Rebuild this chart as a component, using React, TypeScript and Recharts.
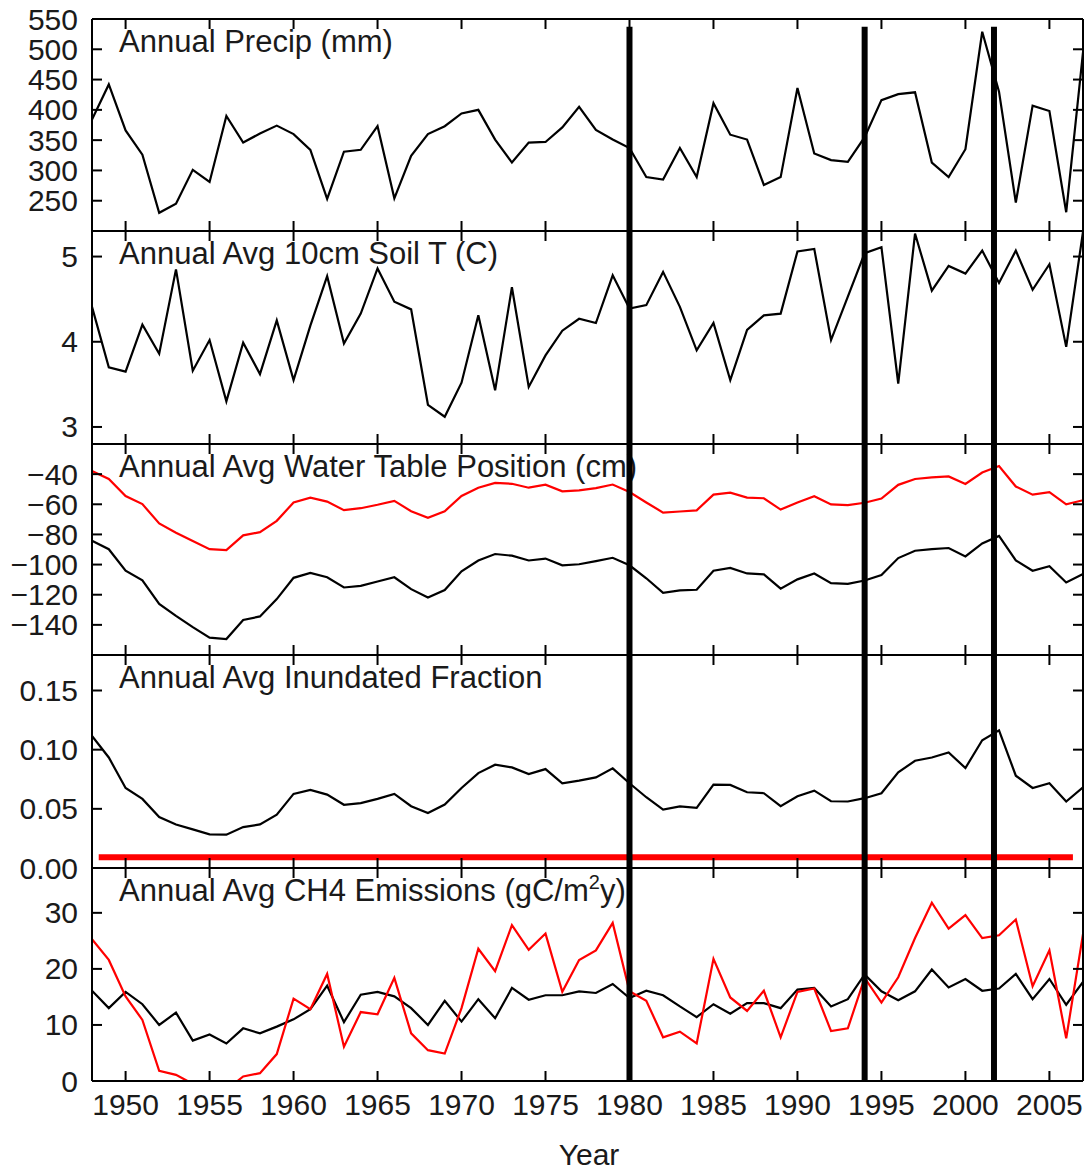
import React from 'react';
import { LineChart, Line, XAxis, YAxis, ReferenceLine } from 'recharts';

// values, one per year 1948..2007
const years = [
  1948, 1949, 1950, 1951, 1952, 1953, 1954, 1955, 1956, 1957,
  1958, 1959, 1960, 1961, 1962, 1963, 1964, 1965, 1966, 1967,
  1968, 1969, 1970, 1971, 1972, 1973, 1974, 1975, 1976, 1977,
  1978, 1979, 1980, 1981, 1982, 1983, 1984, 1985, 1986, 1987,
  1988, 1989, 1990, 1991, 1992, 1993, 1994, 1995, 1996, 1997,
  1998, 1999, 2000, 2001, 2002, 2003, 2004, 2005, 2006, 2007,
];

const precip = [
  384, 442, 366, 326, 230, 245, 301, 281, 390, 346,
  361, 374, 360, 334, 253, 331, 334, 373, 254, 324,
  360, 373, 394, 400, 351, 313, 346, 347, 371, 405,
  367, 351, 337, 289, 285, 337, 289, 411, 359, 351,
  276, 289, 436, 328, 317, 314, 355, 416, 426, 429,
  313, 289, 335, 529, 430, 247, 407, 398, 231, 495,
];

const soilT = [
  4.41, 3.7, 3.65, 4.2, 3.86, 4.85, 3.66, 4.02, 3.3, 3.99,
  3.62, 4.25, 3.55, 4.19, 4.77, 3.98, 4.33, 4.86, 4.47, 4.38,
  3.26, 3.12, 3.52, 4.31, 3.43, 4.64, 3.47, 3.84, 4.13, 4.27,
  4.22, 4.78, 4.39, 4.43, 4.82, 4.41, 3.9, 4.22, 3.55, 4.14,
  4.31, 4.33, 5.06, 5.09, 4.02, 4.53, 5.04, 5.11, 3.51, 5.27,
  4.6, 4.89, 4.8, 5.07, 4.69, 5.07, 4.61, 4.91, 3.94, 5.29,
];

const waterTableRed = [
  -37.9, -43.2, -54.5, -59.9, -72.7, -78.9, -84.4, -89.8, -90.4, -80.6,
  -78.5, -71.0, -58.8, -55.6, -58.2, -63.9, -62.6, -60.3, -57.7, -64.6,
  -69.0, -64.6, -54.5, -49.0, -45.8, -46.4, -49.0, -47.0, -51.4, -50.8,
  -49.3, -46.9, -51.9, -58.8, -65.5, -64.8, -64.0, -53.6, -52.3, -55.6,
  -56.0, -63.5, -58.8, -54.7, -60.1, -60.5, -59.0, -56.2, -47.1, -43.2,
  -42.2, -41.5, -46.5, -38.9, -34.6, -48.2, -53.6, -51.9, -60.0, -57.3,
];

const waterTableBlack = [
  -84.2, -89.8, -104.1, -110.5, -126.1, -134.0, -141.5, -148.5, -149.4, -136.8,
  -134.4, -122.9, -108.8, -105.6, -108.4, -115.2, -114.1, -111.2, -108.4, -116.3,
  -121.8, -116.9, -104.5, -97.3, -93.0, -94.1, -97.3, -96.0, -100.5, -99.8,
  -97.7, -95.5, -100.5, -109.1, -118.8, -117.1, -116.7, -104.1, -102.2, -105.9,
  -106.5, -116.0, -109.8, -105.9, -112.3, -112.8, -110.6, -107.0, -95.7, -90.8,
  -89.7, -89.0, -94.6, -86.0, -81.0, -97.2, -104.1, -101.1, -111.9, -106.3,
];

const inundated = [
  0.1116, 0.0934, 0.0676, 0.0584, 0.043, 0.0368, 0.0326, 0.0284, 0.0282, 0.0346,
  0.0368, 0.045, 0.0626, 0.066, 0.062, 0.0534, 0.0548, 0.0584, 0.0626, 0.0522,
  0.0464, 0.0536, 0.0676, 0.0802, 0.0873, 0.085, 0.0794, 0.0836, 0.0716, 0.0738,
  0.0766, 0.0842, 0.0716, 0.0598, 0.0494, 0.052, 0.0508, 0.0704, 0.0702, 0.064,
  0.0632, 0.0522, 0.0606, 0.0654, 0.0564, 0.0562, 0.059, 0.0632, 0.0808, 0.0906,
  0.0934, 0.0976, 0.0845, 0.108, 0.1164, 0.078, 0.0676, 0.0716, 0.0562, 0.0682,
];

const ch4Black = [
  16.1, 13.0, 15.9, 13.7, 10.0, 12.2, 7.2, 8.3, 6.7, 9.4,
  8.5, 9.7, 11.0, 12.8, 17.0, 10.5, 15.4, 15.9, 15.1, 13.0,
  10.0, 14.3, 10.6, 14.6, 11.2, 16.6, 14.5, 15.3, 15.3, 16.0,
  15.7, 17.3, 14.8, 16.1, 15.3, 13.3, 11.4, 13.7, 12.0, 13.9,
  13.9, 13.0, 16.3, 16.6, 13.3, 14.6, 19.0, 16.0, 14.4, 16.0,
  19.9, 16.7, 18.2, 16.1, 16.5, 19.1, 14.6, 18.2, 13.6, 17.7,
];

const ch4Red = [
  25.3, 21.6, 15.1, 10.9, 1.8, 1.1, -0.5, -1.2, -1.6, 0.8,
  1.4, 4.8, 14.7, 12.8, 19.1, 6.1, 12.3, 11.9, 18.4, 8.5,
  5.5, 4.9, 13.0, 23.6, 19.6, 27.8, 23.4, 26.3, 15.9, 21.6,
  23.3, 28.2, 16.0, 14.3, 7.8, 8.8, 6.7, 21.8, 14.9, 12.5,
  16.1, 7.8, 15.9, 16.5, 8.9, 9.4, 18.4, 14.0, 18.5, 25.5,
  31.8, 27.2, 29.6, 25.5, 26.0, 28.8, 16.9, 23.3, 7.6, 26.2,
];

const xTicks = [1950, 1955, 1960, 1965, 1970, 1975, 1980, 1985, 1990, 1995, 2000, 2005];
const dividerYears = [1980, 1994, 2001.7];
const inundatedRedLevel = 0.009;
const inundatedRedSpan = [1948.4, 2006.4];

const data = years.map((year, i) => ({
  year,
  precip: precip[i],
  soilT: soilT[i],
  waterTableRed: waterTableRed[i],
  waterTableBlack: waterTableBlack[i],
  inundated: inundated[i],
  ch4Black: ch4Black[i],
  ch4Red: ch4Red[i],
}));

const FONT = '"Liberation Sans", Arial, Helvetica, sans-serif';
const TEXT = '#1a1a1a';
const W = 1084;
const PLOT_LEFT = 92;
const PAD = 20;
const axisStyle = { stroke: '#000', strokeWidth: 2 };

const XTick = (props: any) => {
  const { x, y, payload, side, showLabel } = props;
  const d = side === 'top' ? 10 : -10;
  return (
    <g>
      <line x1={x} x2={x} y1={y} y2={y + d} stroke="#000" strokeWidth={2} />
      {showLabel && (
        <text x={x} y={y + 34} textAnchor="middle" fontSize={30} fill={TEXT} fontFamily={FONT}>
          {payload.value}
        </text>
      )}
    </g>
  );
};

const YTick = (props: any) => {
  const { x, y, payload, side, fmt } = props;
  const d = side === 'left' ? 10 : -10;
  return (
    <g>
      <line x1={x} x2={x + d} y1={y} y2={y} stroke="#000" strokeWidth={2} />
      {side === 'left' && (
        <text x={x - 14} y={y + 10.5} textAnchor="end" fontSize={30} fill={TEXT} fontFamily={FONT}>
          {fmt(payload.value)}
        </text>
      )}
    </g>
  );
};

type SeriesDef = { key: string; color: string };

type PanelProps = {
  top: number;
  plotHeight: number;
  bottom?: number;
  domain: [number, number];
  ticks: number[];
  fmt: (v: number) => string;
  series: SeriesDef[];
  xLabels?: boolean;
  dividerTop?: number;
  children?: React.ReactNode;
};

// axes are 1px thick so they render but take almost no room
const Panel = ({ top, plotHeight, bottom = PAD, domain, ticks, fmt, series, xLabels, dividerTop, children }: PanelProps) => (
  <div style={{ position: 'absolute', left: 0, top: top - PAD }}>
    <LineChart
      width={W}
      height={plotHeight + PAD + bottom}
      data={data}
      margin={{ top: PAD - 1, right: 0, bottom: bottom - 1, left: PLOT_LEFT - 1 }}
    >
      <XAxis
        dataKey="year"
        type="number"
        domain={[1948, 2007]}
        ticks={xTicks}
        interval={0}
        height={1}
        tickSize={0}
        tickMargin={0}
        tickLine={false}
        axisLine={axisStyle}
        allowDataOverflow
        tick={(p: any) => <XTick {...p} side="bottom" showLabel={xLabels} />}
      />
      <XAxis
        xAxisId="top"
        orientation="top"
        dataKey="year"
        type="number"
        domain={[1948, 2007]}
        ticks={xTicks}
        interval={0}
        height={1}
        tickSize={0}
        tickMargin={0}
        tickLine={false}
        axisLine={axisStyle}
        allowDataOverflow
        tick={(p: any) => <XTick {...p} side="top" />}
      />
      <YAxis
        type="number"
        domain={domain}
        ticks={ticks}
        interval={0}
        width={1}
        tickSize={0}
        tickMargin={0}
        tickLine={false}
        axisLine={axisStyle}
        allowDataOverflow
        tick={(p: any) => <YTick {...p} side="left" fmt={fmt} />}
      />
      <YAxis
        yAxisId="right"
        orientation="right"
        type="number"
        domain={domain}
        ticks={ticks}
        interval={0}
        width={1}
        tickSize={0}
        tickMargin={0}
        tickLine={false}
        axisLine={axisStyle}
        allowDataOverflow
        tick={(p: any) => <YTick {...p} side="right" fmt={fmt} />}
      />
      {series.map((s) => (
        <Line
          key={s.key}
          dataKey={s.key}
          stroke={s.color}
          strokeWidth={2.2}
          dot={false}
          activeDot={false}
          isAnimationActive={false}
        />
      ))}
      {children}
      {dividerYears.map((yr) =>
        dividerTop !== undefined ? (
          <ReferenceLine
            key={yr}
            segment={[{ x: yr, y: domain[0] }, { x: yr, y: dividerTop }]}
            stroke="#000"
            strokeWidth={6}
          />
        ) : (
          <ReferenceLine key={yr} x={yr} stroke="#000" strokeWidth={6} />
        )
      )}
    </LineChart>
  </div>
);

const panelTops = [19, 231, 444, 655, 868];
const panelBottom = 1081;
const panelTitles = [
  'Annual Precip (mm)',
  'Annual Avg 10cm Soil T (C)',
  'Annual Avg Water Table Position (cm)',
  'Annual Avg Inundated Fraction',
];

const h = (i: number) => (i < 4 ? panelTops[i + 1] : panelBottom) - panelTops[i];
const minus = (v: number) => (v < 0 ? '\u2212' + Math.abs(v) : String(v));

export default function App() {
  return (
    <div style={{ position: 'absolute', left: 0, top: 0, width: W, height: 1170, background: '#fff' }}>
      <svg width={W} height={1170} style={{ position: 'absolute', left: 0, top: 0 }}>
        {panelTitles.map((t, i) => (
          <text key={t} x={119} y={panelTops[i] + 33} fontSize={31} fill={TEXT} fontFamily={FONT}>
            {t}
          </text>
        ))}
        <text x={119} y={panelTops[4] + 33} fontSize={31} fill={TEXT} fontFamily={FONT}>
          Annual Avg CH4 Emissions (gC/m
          <tspan dy={-12} fontSize={20}>2</tspan>
          <tspan dy={12}>y)</tspan>
        </text>
        <text x={589} y={1165} textAnchor="middle" fontSize={30} fill={TEXT} fontFamily={FONT}>
          Year
        </text>
      </svg>
      <Panel
        top={panelTops[0]}
        plotHeight={h(0)}
        domain={[200, 550]}
        ticks={[250, 300, 350, 400, 450, 500, 550]}
        fmt={String}
        series={[{ key: 'precip', color: '#000' }]}
        dividerTop={537}
      />
      <Panel
        top={panelTops[1]}
        plotHeight={h(1)}
        domain={[2.8, 5.3]}
        ticks={[3, 4, 5]}
        fmt={String}
        series={[{ key: 'soilT', color: '#000' }]}
      />
      <Panel
        top={panelTops[2]}
        plotHeight={h(2)}
        domain={[-160, -20]}
        ticks={[-140, -120, -100, -80, -60, -40]}
        fmt={minus}
        series={[
          { key: 'waterTableRed', color: '#ff0000' },
          { key: 'waterTableBlack', color: '#000' },
        ]}
      />
      <Panel
        top={panelTops[3]}
        plotHeight={h(3)}
        domain={[0, 0.18]}
        ticks={[0, 0.05, 0.1, 0.15]}
        fmt={(v) => v.toFixed(2)}
        series={[{ key: 'inundated', color: '#000' }]}
      >
        <ReferenceLine
          segment={[
            { x: inundatedRedSpan[0], y: inundatedRedLevel },
            { x: inundatedRedSpan[1], y: inundatedRedLevel },
          ]}
          stroke="#ff0000"
          strokeWidth={6}
        />
      </Panel>
      <Panel
        top={panelTops[4]}
        plotHeight={h(4)}
        bottom={89}
        domain={[0, 38]}
        ticks={[0, 10, 20, 30]}
        fmt={String}
        series={[
          { key: 'ch4Black', color: '#000' },
          { key: 'ch4Red', color: '#ff0000' },
        ]}
        xLabels
      />
    </div>
  );
}
